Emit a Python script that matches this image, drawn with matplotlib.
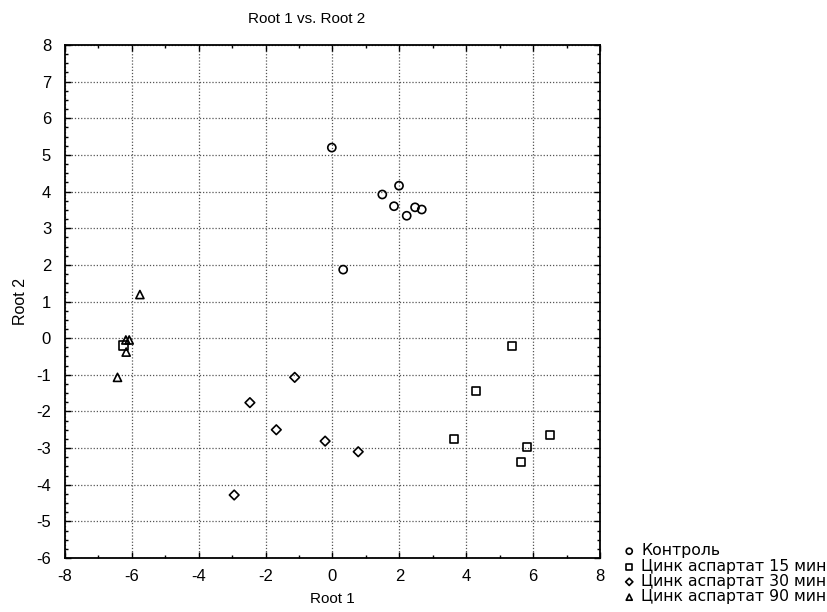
import numpy as np
import matplotlib
matplotlib.use('Agg')
from matplotlib import pyplot as plt
from matplotlib.ticker import MultipleLocator

plt.rcParams['font.family'] = ['Liberation Sans', 'DejaVu Sans']
plt.rcParams['axes.unicode_minus'] = False

# data
ctrl_x = [-0.02, 1.99, 1.49, 1.84, 2.47, 2.67, 2.22, 0.32]
ctrl_y = [5.20, 4.16, 3.92, 3.60, 3.57, 3.51, 3.34, 1.87]

m15_x = [5.38, 4.29, 3.64, 6.50, 5.83, 5.63, -6.25]
m15_y = [-0.21, -1.45, -2.76, -2.65, -2.97, -3.38, -0.20]

m30_x = [-1.13, -2.47, -1.68, -0.22, 0.77, -2.94]
m30_y = [-1.07, -1.76, -2.50, -2.81, -3.10, -4.28]

m90_x = [-5.76, -6.18, -6.08, -6.17, -6.43]
m90_y = [1.19, -0.05, -0.05, -0.38, -1.07]

labels = ['Контроль', 'Цинк аспартат 15 мин', 'Цинк аспартат 30 мин', 'Цинк аспартат 90 мин']

fig = plt.figure(figsize=(8.28, 6.12), dpi=100)
ax = fig.add_axes([0.0785, 0.0882, 0.6461, 0.8383])

mk = dict(facecolor='none', edgecolor='black', linewidths=1.2, s=34, zorder=3)
ax.scatter(ctrl_x, ctrl_y, marker='o', label=labels[0], **mk)
ax.scatter(m15_x, m15_y, marker='s', label=labels[1], **mk)
ax.scatter(m30_x, m30_y, marker='D', label=labels[2], **dict(mk, s=24))
ax.scatter(m90_x, m90_y, marker='^', label=labels[3], **mk)

ax.set_xlim(-8, 8)
ax.set_ylim(-6, 8)
ax.xaxis.set_major_locator(MultipleLocator(2))
ax.xaxis.set_minor_locator(MultipleLocator(1))
ax.yaxis.set_major_locator(MultipleLocator(1))
ax.yaxis.set_minor_locator(MultipleLocator(0.25))
ax.tick_params(which='both', direction='in', top=True, right=True, width=1, colors='black')
ax.tick_params(which='major', length=4, labelsize=12)
ax.tick_params(axis='y', which='major', pad=10)
ax.tick_params(axis='x', which='major', pad=8)
ax.tick_params(which='minor', length=2.5)
ax.grid(True, which='major', linestyle=(0, (1, 1.5)), color='#555555', linewidth=0.9)
for sp in ax.spines.values():
    sp.set_linewidth(1.3)

ax.set_title('Root 1 vs. Root 2', fontsize=11, pad=16, x=0.452)
ax.set_xlabel('Root 1', fontsize=11, labelpad=6)
ax.set_ylabel('Root 2', fontsize=11.5, labelpad=6)

fig.legend(loc='upper left', bbox_to_anchor=(0.741, 0.125), frameon=False,
           prop={'family': 'DejaVu Sans', 'size': 11.3}, handletextpad=0.25,
           labelspacing=0.02, borderpad=0, markerscale=0.75, handlelength=1.0)

plt.savefig('out.png', dpi=100)
